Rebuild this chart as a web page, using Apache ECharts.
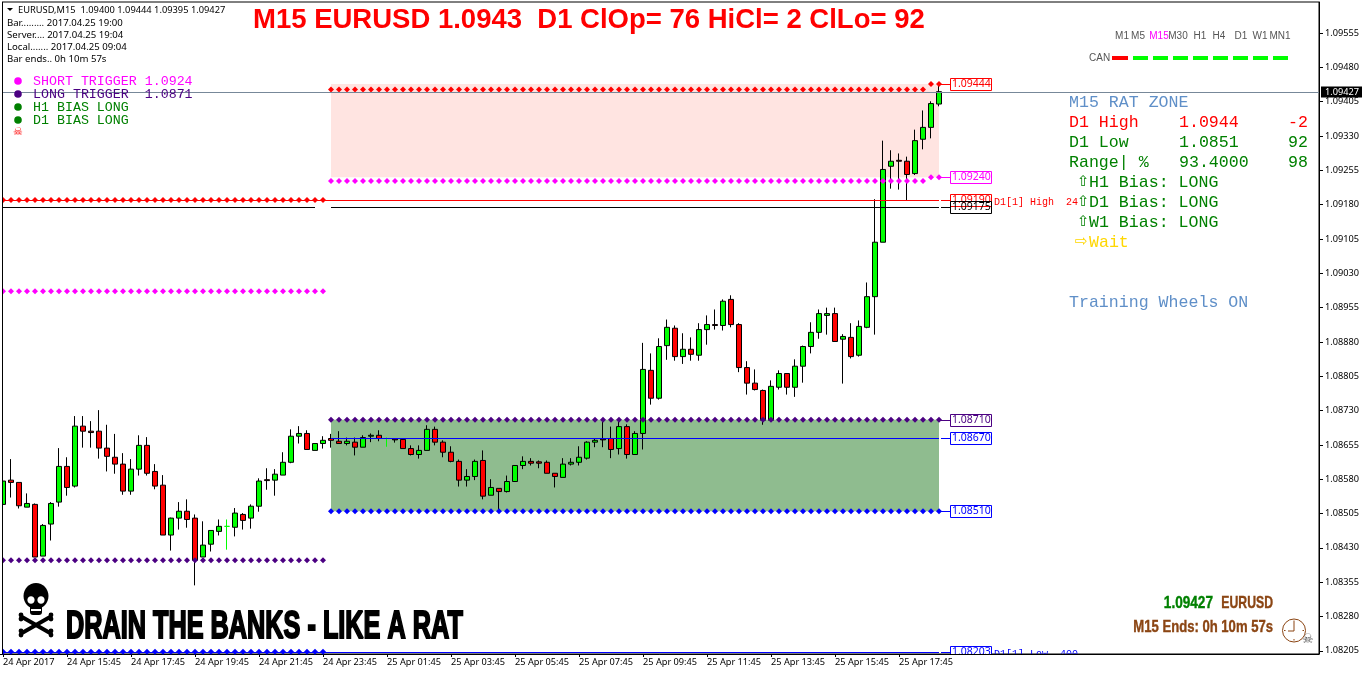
<!DOCTYPE html>
<html><head><meta charset="utf-8">
<style>html,body{margin:0;padding:0;background:#fff}#c{width:1362px;height:675px}</style>
<script src="https://cdn.jsdelivr.net/npm/echarts@6/dist/echarts.min.js"></script>
</head><body><div id="c"></div>
<script>
// ---- OHLC values (24 Apr 13:45 → 25 Apr 19:00, M15 bars)
const opens=[1.08525,1.08578,1.08573,1.08519,1.08525,1.08412,1.08482,1.08530,1.08608,1.08565,1.08696,1.08685,1.08685,1.08648,1.08628,1.08613,1.08554,1.08602,1.08654,1.08597,1.08567,1.08458,1.08495,1.08510,1.08495,1.08410,1.08438,1.08466,1.08477,1.08475,1.08503,1.08495,1.08521,1.08579,1.08578,1.08589,1.08617,1.08674,1.08680,1.08643,1.08658,
1.08669,1.08663,1.08658,1.08661,1.08650,1.08674,1.08676,1.08669,1.08668,1.08667,1.08647,1.08634,1.08643,1.08689,1.08661,1.08639,1.08619,1.08578,1.08586,1.08621,1.08545,1.08560,1.08553,1.08575,1.08610,1.08619,1.08618,1.08617,1.08593,1.08584,1.08613,1.08617,1.08626,1.08661,1.08668,1.08669,1.08647,1.08695,1.08634,
1.08680,1.08818,1.08757,1.08872,1.08910,1.08848,1.08864,1.08851,1.08907,1.08918,1.08916,1.08973,1.08918,1.08824,1.08790,1.08774,1.08709,1.08781,1.08811,1.08781,1.08827,1.08870,1.08901,1.08938,1.08942,1.08886,1.08890,1.08851,1.08912,
1.08979,1.09098,1.09264,1.09277,1.09275,1.09248,1.09323,1.09349,1.09400];
const highs=[1.08602,1.08624,1.08573,1.08549,1.08527,1.08482,1.08530,1.08648,1.08628,1.08718,1.08718,1.08707,1.08731,1.08699,1.08679,1.08637,1.08624,1.08676,1.08672,1.08613,1.08589,1.08496,1.08530,1.08536,1.08503,1.08488,1.08468,1.08492,1.08492,1.08517,1.08506,1.08525,1.08582,1.08604,1.08602,1.08639,1.08689,1.08696,1.08687,1.08658,1.08674,
1.08679,1.08685,1.08671,1.08671,1.08676,1.08680,1.08687,1.08671,1.08669,1.08669,1.08654,1.08654,1.08698,1.08695,1.08665,1.08652,1.08623,1.08602,1.08623,1.08643,1.08580,1.08560,1.08588,1.08610,1.08630,1.08626,1.08621,1.08621,1.08593,1.08626,1.08626,1.08652,1.08663,1.08669,1.08709,1.08695,1.08709,1.08700,1.08685,
1.08878,1.08855,1.08888,1.08929,1.08916,1.08899,1.08890,1.08921,1.08938,1.08951,1.08973,1.08982,1.08921,1.08838,1.08820,1.08776,1.08796,1.08818,1.08811,1.08842,1.08872,1.08923,1.08951,1.08955,1.08955,1.08897,1.08921,1.08927,1.09010,
1.09192,1.09320,1.09299,1.09292,1.09285,1.09344,1.09386,1.09406,1.09444];
const lows=[1.08525,1.08540,1.08516,1.08519,1.08410,1.08412,1.08446,1.08520,1.08544,1.08562,1.08649,1.08649,1.08625,1.08597,1.08592,1.08546,1.08546,1.08588,1.08588,1.08558,1.08458,1.08424,1.08470,1.08474,1.08348,1.08410,1.08422,1.08457,1.08426,1.08455,1.08470,1.08472,1.08509,1.08557,1.08544,1.08589,1.08615,1.08658,1.08645,1.08643,1.08647,
1.08649,1.08658,1.08654,1.08632,1.08650,1.08661,1.08663,1.08651,1.08660,1.08647,1.08632,1.08625,1.08643,1.08654,1.08628,1.08617,1.08564,1.08564,1.08578,1.08536,1.08545,1.08511,1.08551,1.08575,1.08602,1.08610,1.08604,1.08593,1.08562,1.08584,1.08610,1.08610,1.08623,1.08650,1.08650,1.08626,1.08634,1.08625,1.08634,
1.08645,1.08743,1.08754,1.08841,1.08839,1.08832,1.08839,1.08839,1.08874,1.08907,1.08905,1.08912,1.08814,1.08765,1.08774,1.08699,1.08709,1.08776,1.08765,1.08760,1.08791,1.08855,1.08887,1.08896,1.08881,1.08789,1.08844,1.08848,1.08910,
1.08896,1.09098,1.09215,1.09213,1.09189,1.09245,1.09301,1.09325,1.09395];
const closes=[1.08576,1.08573,1.08522,1.08527,1.08410,1.08479,1.08527,1.08608,1.08562,1.08696,1.08685,1.08682,1.08648,1.08630,1.08613,1.08554,1.08602,1.08654,1.08593,1.08565,1.08458,1.08495,1.08510,1.08492,1.08403,1.08436,1.08468,1.08477,1.08477,1.08506,1.08490,1.08521,1.08576,1.08577,1.08591,1.08617,1.08674,1.08680,1.08645,1.08658,1.08665,
1.08665,1.08658,1.08663,1.08650,1.08671,1.08676,1.08669,1.08669,1.08666,1.08647,1.08634,1.08643,1.08689,1.08661,1.08639,1.08619,1.08578,1.08586,1.08619,1.08543,1.08562,1.08553,1.08575,1.08610,1.08619,1.08615,1.08615,1.08593,1.08586,1.08613,1.08617,1.08628,1.08661,1.08665,1.08666,1.08645,1.08695,1.08634,1.08680,
1.08820,1.08757,1.08870,1.08912,1.08848,1.08864,1.08853,1.08907,1.08918,1.08916,1.08969,1.08918,1.08824,1.08790,1.08776,1.08709,1.08783,1.08811,1.08781,1.08827,1.08870,1.08901,1.08942,1.08942,1.08881,1.08892,1.08848,1.08914,1.08979,
1.09098,1.09257,1.09275,1.09275,1.09246,1.09320,1.09349,1.09401,1.09427];

const timeLabels=['24 Apr 2017','24 Apr 15:45','24 Apr 17:45','24 Apr 19:45','24 Apr 21:45','24 Apr 23:45','25 Apr 01:45','25 Apr 03:45','25 Apr 05:45','25 Apr 07:45','25 Apr 09:45','25 Apr 11:45','25 Apr 13:45','25 Apr 15:45','25 Apr 17:45'];
const priceTicks=[1.08205,1.08280,1.08355,1.08430,1.08505,1.08580,1.08655,1.08730,1.08805,1.08880,1.08955,1.09030,1.09105,1.09180,1.09255,1.09330,1.09405,1.09480,1.09555];
const lastPrice=1.09427;
// ---- indicator levels: [first bar, last bar, price]
const redDots=[[0,40,1.09190],[41,115,1.09432],[116,117,1.09444]];
const magentaDots=[[0,40,1.08991],[41,115,1.09232],[116,117,1.09240]];
const indigoDots=[[0,40,1.08403],[41,117,1.08710]];
const blueDots=[[0,40,1.08203],[41,117,1.08510]];
const redLines=[[0,117,1.09190]];
const blackLines=[[0,39,1.09175],[41,117,1.09175]];
const blueLines=[[0,117,1.08203],[41,117,1.08670]];
const shortZone=[41,117,1.09240,1.09444];
const longZone=[41,117,1.08510,1.08710];
const boxPrices=[1.09444,1.09240,1.09190,1.09175,1.08710,1.08670,1.08510,1.08203];
const boxColors=['#ff0000','#ff00ff','#ff0000','#000000','#4b0082','#0000ff','#0000ff','#0000ff'];
const boxSideTexts=['','','D1[1] High  24','','','','','D1[1] Low  400'];
const frames=['M1','M5','M15','M30','H1','H4','D1','W1','MN1'];
const canSignals=[0,1,1,1,1,1,1,1,1];

const lastBar=opens.length-1, slots=165;
const categories=Array.from({length:slots},(_,i)=>(i%8===0&&i/8<timeLabels.length)?timeLabels[i/8]:'');
const candleData=opens.map((o,i)=>{
  const item={value:[o,closes[i],lows[i],highs[i]]};
  if(o===closes[i]) item.itemStyle={borderColor:'#00ff00',borderColor0:'#00ff00',borderColorDoji:'#00ff00'};
  return item;
});
const expand=segs=>segs.flatMap(([a,b,p])=>{const r=[];for(let i=a;i<=b;i++)r.push([i,p]);return r;});
const dotSeries=(name,color,segs)=>({type:'scatter',name,data:expand(segs),symbol:'diamond',symbolSize:6,z:6,silent:true,itemStyle:{color,opacity:1}});
const crisp=y=>Math.round(y)+.5;
const lineSeries=(name,color,segs)=>({type:'custom',name,z:5,silent:true,clip:true,
  data:segs.map(s=>s.slice()),encode:{x:[0,1],y:2},
  renderItem:(params,api)=>{
    const a=api.coord([api.value(0),api.value(2)]),b=api.coord([api.value(1),api.value(2)]),y=crisp(a[1]);
    return {type:'line',shape:{x1:a[0]-(api.value(0)===0?2:0),y1:y,x2:b[0],y2:y},style:{stroke:color,lineWidth:1}};
  }});

const AX='"Noto Sans",sans-serif', MONO='"Liberation Mono",monospace', ARB='"Liberation Sans",sans-serif';
const txt=(text,x,y,fill,font,extra)=>Object.assign({type:'text',x,y,z:50,silent:true,style:{text,fill,font,textVerticalAlign:'middle'}},extra||{});
const el=[];
const add=(type,shape,style)=>el.push({type,shape,style,z:50,silent:true});
// left frame and mask
el.push({type:'rect',shape:{x:0,y:0,width:2,height:654},style:{fill:'#fff'},z:40,silent:true});
el.push({type:'line',shape:{x1:2.5,y1:2,x2:2.5,y2:654},style:{stroke:'#000',lineWidth:1},z:41,silent:true});
// info block
el.push({type:'polygon',shape:{points:[[7,8],[13,8],[10,11]]},style:{fill:'#000'},z:50,silent:true});
const INF='9.6px '+AX;
el.push(txt('EURUSD,M15  1.09400 1.09444 1.09395 1.09427',18,10.5,'#000','9.3px '+AX));
['Bar......... 2017.04.25 19:00','Server.... 2017.04.25 19:04','Local....... 2017.04.25 09:04','Bar ends.. 0h 10m 57s'].forEach((t,i)=>el.push(txt(t,7,[23.5,35.5,47.5,59.5][i],'#000',INF)));
// trigger legend
[['SHORT TRIGGER 1.0924','#ff00ff'],['LONG TRIGGER  1.0871','#4b0082'],['H1 BIAS LONG','#008000'],['D1 BIAS LONG','#008000']].forEach(([t,c],i)=>{
  const y=81+i*13;
  add('circle',{cx:18,cy:y,r:3.8},{fill:c});
  el.push(txt(t,33,y,c,'13.3px '+MONO));
});
el.push(txt('☠',13,132,'#ff0000','11px "DejaVu Sans"'));
// timeframe strip
const frameX=[1122,1138,1159,1178,1200,1219,1241,1260,1280];
frames.forEach((t,i)=>el.push({type:'text',x:frameX[i],y:36.5,z:50,silent:true,style:{text:t,fill:t==='M15'?'#ff00ff':'#555555',font:'10px '+ARB,textAlign:'center',textVerticalAlign:'middle'}}));
el.push(txt('CAN',1089,58.5,'#555555','10px '+ARB));
canSignals.forEach((s,i)=>add('rect',{x:1112+(i===0?0:1)+i*20,y:56,width:i===0?16:15,height:4},{fill:s?'#00ff00':'#ff0000'}));
// right panel
const PF='16.6px '+MONO, STEEL='#5f8fc8', GREEN='#008000';
el.push(txt('M15 RAT ZONE',1069,103,STEEL,PF));
[['D1 High','1.0944','-2','#ff0000',123],['D1 Low','1.0851','92',GREEN,143],['Range| %','93.4000','98',GREEN,163]].forEach(([a,b,c,col,y])=>{
  el.push(txt(a,1069,y,col,PF));el.push(txt(b,1179,y,col,PF));
  el.push({type:'text',x:1308,y,z:50,silent:true,style:{text:c,fill:col,font:PF,textAlign:'right',textVerticalAlign:'middle'}});
});
[['H1 Bias: LONG',183],['D1 Bias: LONG',203],['W1 Bias: LONG',223]].forEach(([t,y])=>{
  el.push(txt('⇧',1077,y-1,GREEN,'15px "DejaVu Sans"'));
  el.push(txt(t,1089,y,GREEN,PF));
});
el.push(txt('⇨',1075,242,'#ffd700','15px "DejaVu Sans"'));
el.push(txt('Wait',1089,243,'#ffd700',PF));
el.push(txt('Training Wheels ON',1069,303,STEEL,PF));
// skull and crossbones (bottom left)
add('line',{x1:22,y1:617,x2:50,y2:633},{stroke:'#000',lineWidth:4,lineCap:'round'});
add('line',{x1:50,y1:617,x2:22,y2:633},{stroke:'#000',lineWidth:4,lineCap:'round'});
[[21,615],[21,619],[51,615],[51,619],[21,631],[21,635],[51,631],[51,635]].forEach(([cx,cy])=>add('circle',{cx,cy,r:2.4},{fill:'#000'}));
add('ellipse',{cx:36,cy:596,rx:12.5,ry:13},{fill:'#000'});
add('rect',{x:30,y:604,width:12,height:11,r:3},{fill:'#000'});
add('ellipse',{cx:31,cy:600,rx:3.6,ry:3.8},{fill:'#fff'});
add('ellipse',{cx:41,cy:600,rx:3.6,ry:3.8},{fill:'#fff'});
add('rect',{x:31,y:609,width:10,height:2},{fill:'#fff'});
el.push({type:'text',x:66,y:628,z:50,silent:true,scaleX:0.665,style:{text:'DRAIN THE BANKS - LIKE A RAT',fill:'#000',stroke:'#000',lineWidth:2,font:'bold 38px '+ARB,textVerticalAlign:'middle'}});
// bottom right
const IMP='bold 17px '+ARB, BROWN='#8b4513';
el.push({type:'text',x:1213,y:603.5,z:50,silent:true,scaleX:0.8,style:{text:'1.09427',fill:'#008000',stroke:'#008000',lineWidth:.4,font:IMP,textAlign:'right',textVerticalAlign:'middle'}});
el.push({type:'text',x:1273,y:603.5,z:50,silent:true,scaleX:0.72,style:{text:'EURUSD',fill:BROWN,stroke:BROWN,lineWidth:.4,font:IMP,textAlign:'right',textVerticalAlign:'middle'}});
el.push({type:'text',x:1273,y:627.5,z:50,silent:true,scaleX:0.77,style:{text:'M15 Ends: 0h 10m 57s',fill:BROWN,stroke:BROWN,lineWidth:.4,font:IMP,textAlign:'right',textVerticalAlign:'middle'}});
// clock
add('circle',{cx:1294,cy:630.5,r:11.5},{fill:'none',stroke:BROWN,lineWidth:1});
add('line',{x1:1294,y1:622,x2:1294,y2:631},{stroke:BROWN,lineWidth:1});
add('line',{x1:1288,y1:631,x2:1294,y2:631},{stroke:BROWN,lineWidth:1});
[[1294,620.5,1294,622],[1294,639,1294,640.5],[1284,630.5,1285.5,630.5],[1302.5,630.5,1304,630.5]].forEach(([x1,y1,x2,y2])=>add('line',{x1,y1,x2,y2},{stroke:BROWN,lineWidth:1}));
el.push(txt('☠',1302,640,'#555555','13px "DejaVu Sans"'));

const chart=echarts.init(document.getElementById('c'),null,{renderer:'canvas'});
chart.setOption({
  animation:false,backgroundColor:'#fff',
  title:{text:'M15 EURUSD 1.0943  D1 ClOp= 76 HiCl= 2 ClLo= 92',left:253,top:6,padding:0,textStyle:{color:'#ff0000',fontFamily:'"Liberation Sans"',fontWeight:'bold',fontSize:27.5}},
  grid:{left:-1,top:2,width:1320,height:652,outerBoundsMode:'none',containLabel:false,show:true,backgroundColor:'#fff',borderColor:'#000',borderWidth:1},
  xAxis:{type:'category',data:categories,boundaryGap:true,
    axisLine:{show:true,lineStyle:{color:'#000',width:1}},
    axisTick:{show:true,alignWithLabel:true,length:3,lineStyle:{color:'#000'},interval:(i)=>i%8===0&&i<=112},
    axisLabel:{interval:(i)=>i%8===0&&i<=112,align:'left',margin:4,color:'#000',fontFamily:'"Noto Sans"',fontSize:9.2},
    splitLine:{show:false}},
  yAxis:{type:'value',position:'right',min:1.08198,max:1.09623,
    axisLine:{show:true,lineStyle:{color:'#000',width:1}},
    axisTick:{show:true,length:4,lineStyle:{color:'#000'},customValues:priceTicks},
    axisLabel:{margin:6,color:'#000',fontFamily:'"Noto Sans"',fontSize:9.2,customValues:priceTicks,formatter:v=>(+v).toFixed(5)},
    splitLine:{show:false}},
  graphic:{elements:el},
  series:[
    {type:'line',name:'zones',data:[],z:1,silent:true,
     markArea:{silent:true,data:[
       [{xAxis:shortZone[0],yAxis:shortZone[3],itemStyle:{color:'#ffe4e1',opacity:1}},{xAxis:shortZone[1],yAxis:shortZone[2]}],
       [{xAxis:longZone[0],yAxis:longZone[3],itemStyle:{color:'#8fbc8f',opacity:1}},{xAxis:longZone[1],yAxis:longZone[2]}]]}},
    {type:'candlestick',name:'EURUSD,M15',data:candleData,barWidth:5,z:3,silent:true,
     itemStyle:{color:'#00ff00',color0:'#ff0000',borderColor:'#000',borderColor0:'#000',borderColorDoji:'#000',borderWidth:1}},
    lineSeries('D1 high','#ff0000',redLines),
    lineSeries('level','#000000',blackLines),
    lineSeries('D1 low','#0000ff',blueLines),
    dotSeries('short dots','#ff0000',redDots),
    dotSeries('short trigger','#ff00ff',magentaDots),
    dotSeries('long trigger','#4b0082',indigoDots),
    dotSeries('long dots','#0000ff',blueDots),
    {type:'custom',name:'current price',z:8,clip:false,silent:true,data:[[0,lastPrice]],encode:{x:0,y:1},
     renderItem:(params,api)=>{
       const p=api.coord([0,api.value(1)]),y=crisp(p[1]);
       return {type:'group',children:[
         {type:'line',shape:{x1:3,y1:y,x2:1319,y2:y},style:{stroke:'#778899',lineWidth:1}},
         {type:'rect',shape:{x:1321,y:y-6,width:41,height:11},style:{fill:'#000'}},
         {type:'text',style:{text:api.value(1).toFixed(5),x:1325,y:y,fill:'#fff',font:'9.2px "Noto Sans"',textVerticalAlign:'middle'}}]};
     }},
    {type:'custom',name:'level boxes',z:7,clip:true,silent:true,
     data:boxPrices.map((p,i)=>[lastBar,p,i]),
     encode:{x:0,y:1},
     renderItem:(params,api)=>{
       const i=api.value(2),pt=api.coord([api.value(0),api.value(1)]);
       const x0=pt[0]+11,y=Math.round(pt[1])+.5,c=boxColors[i];
       const kids=[
         {type:'line',shape:{x1:pt[0]+2,y1:y,x2:x0,y2:y},style:{stroke:c,lineWidth:1}},
         {type:'rect',shape:{x:x0+.5,y:y-6,width:41,height:12},style:{fill:i===3?'rgba(255,255,255,0)':'#fff',stroke:c,lineWidth:1}},
         {type:'text',style:{text:api.value(1).toFixed(5),x:x0+2,y:y,fill:c,font:'10.5px "Noto Sans"',textVerticalAlign:'middle'}}];
       if(boxSideTexts[i]) kids.push({type:'text',style:{text:boxSideTexts[i],x:x0+44,y:y+2,fill:c,font:'10px "Liberation Mono"',textVerticalAlign:'middle'}});
       return {type:'group',children:kids};
     }}
  ]
});
</script></body></html>
